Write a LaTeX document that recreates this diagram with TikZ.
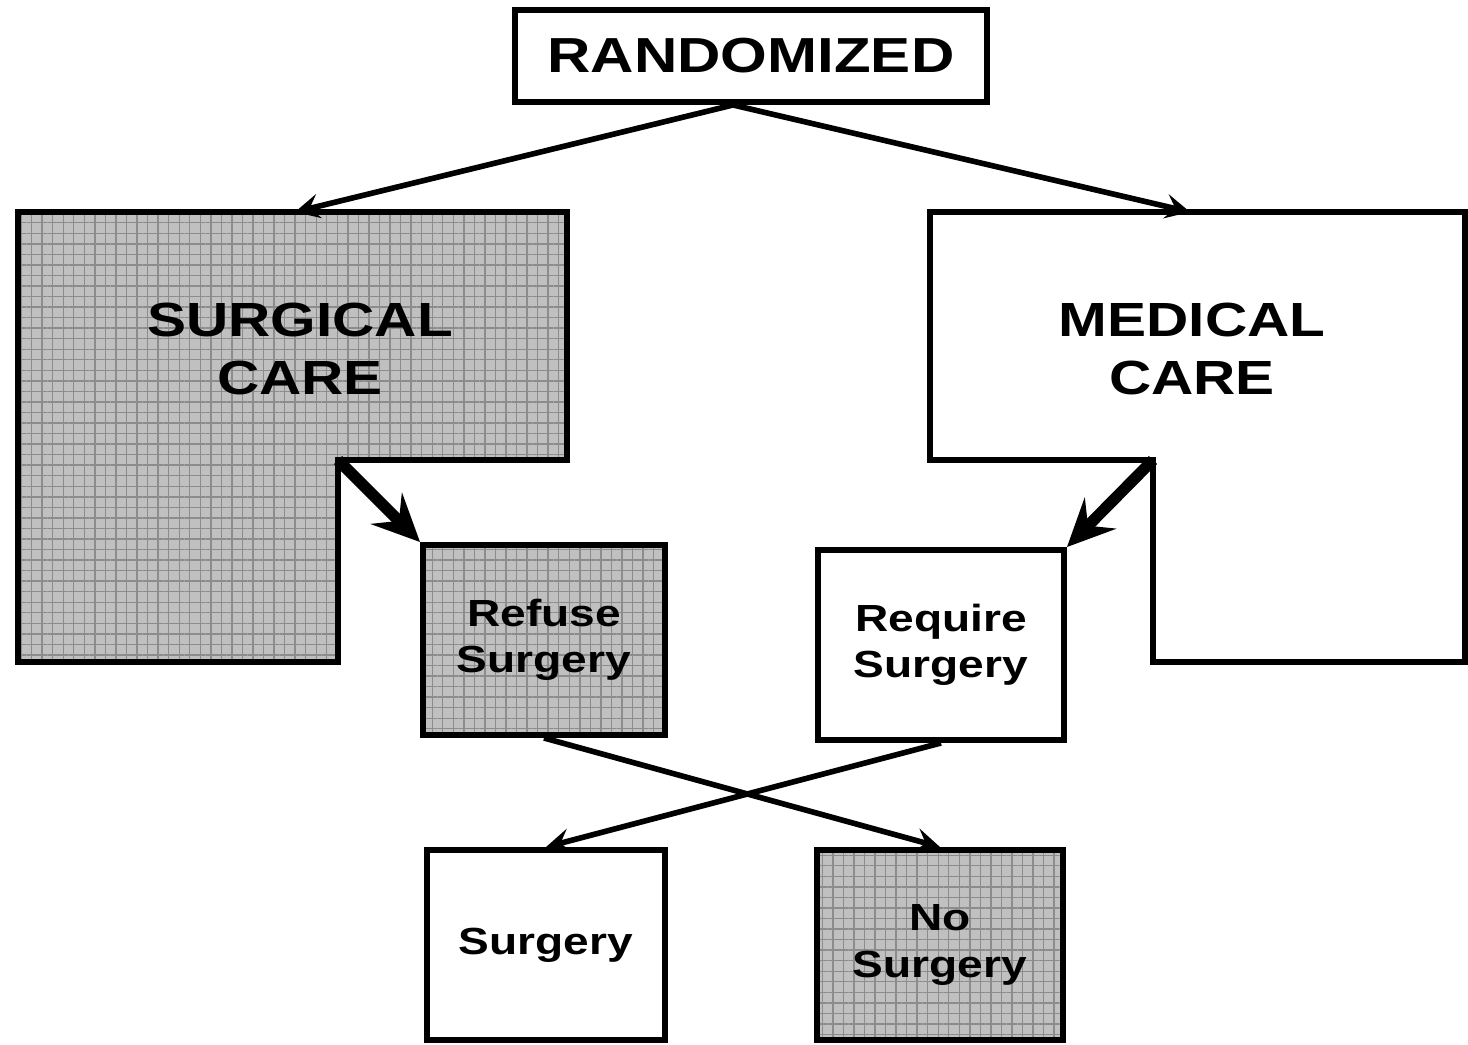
\documentclass[tikz,border=0pt]{standalone}
\usepackage{fontspec}
\newfontfamily\boxfont[FakeStretch=1.22]{Liberation Sans}
\usetikzlibrary{arrows.meta, patterns.meta}
\definecolor{gridback}{RGB}{192,192,192}
\definecolor{gridline}{RGB}{140,140,140}
\newcommand\headtext{\boxfont\bfseries\fontsize{27.3}{33}\selectfont}
\newcommand\boxtext{\boxfont\bfseries\fontsize{21.5}{26.5}\selectfont}

\begin{document}
\begin{tikzpicture}[x=0.02cm, y=-0.02cm]
  \tikzset{
    box/.style={
      draw,
      line width=3.4pt,
      inner sep=0pt,
      align=center,
      minimum height=3.8cm,
      font=\boxtext
    },
    gridfill/.style={
      preaction={fill=gridback},
      preaction={pattern={Lines[angle=0,distance=6pt,line width=0.8pt]}, pattern color=gridline},
      preaction={pattern={Lines[angle=90,distance=6pt,line width=0.8pt]}, pattern color=gridline}
    },
    flow/.style={line width=3.2pt, -{Stealth[length=14pt,width=14pt,inset=5.5pt]}},
    heavy/.style={line width=6.5pt, -{Stealth[length=27pt,width=25pt,inset=10pt]}}
  }
  \useasboundingbox (0,0) rectangle (1468,1045);

  % Top box
  \node[box, minimum width=9.44cm, minimum height=1.84cm, font=\headtext\fontsize{28}{33}\selectfont] (rand) at (751,56) {RANDOMIZED};

  % Surgical arm (shaded L)
  \draw[gridfill, line width=3.4pt] (18,212) -- (567,212) -- (567,460) -- (338,460) -- (338,662) -- (18,662) -- cycle;
  \node[align=center, font=\headtext] (surg) at (300,349) {SURGICAL\\CARE};
  \coordinate (surgtop) at (295,212);
  \coordinate (surgnotch) at (338,460);

  % Medical arm (white L)
  \draw[line width=3.4pt] (930,212) -- (1465,212) -- (1465,662) -- (1153,662) -- (1153,460) -- (930,460) -- cycle;
  \node[align=center, font=\headtext] (med) at (1192,349) {MEDICAL\\CARE};
  \coordinate (medtop) at (1190,212);
  \coordinate (mednotch) at (1153,460);

  % Crossovers
  \node[box, gridfill, minimum width=4.84cm] (refuse) at (544,640) {Refuse\\Surgery};
  \node[box, minimum width=4.92cm] (require) at (941,645) {Require\\Surgery};

  % Treatment received
  \node[box, minimum width=4.76cm] (surgery) at (546,945) {Surgery};
  \node[box, gridfill, minimum width=4.94cm] (nosurg) at (940,945) {No\\Surgery};

  % Arrows
  \draw[flow] ([xshift=-0.36cm]rand.south) -- (surgtop);
  \draw[flow] ([xshift=-0.36cm]rand.south) -- (medtop);
  \draw[heavy] (surgnotch) -- (refuse.north west);
  \draw[heavy] (mednotch) -- (require.north east);
  \draw[flow] (refuse.south) -- (nosurg.north);
  \draw[flow] (require.south) -- (surgery.north);
\end{tikzpicture}
\end{document}
